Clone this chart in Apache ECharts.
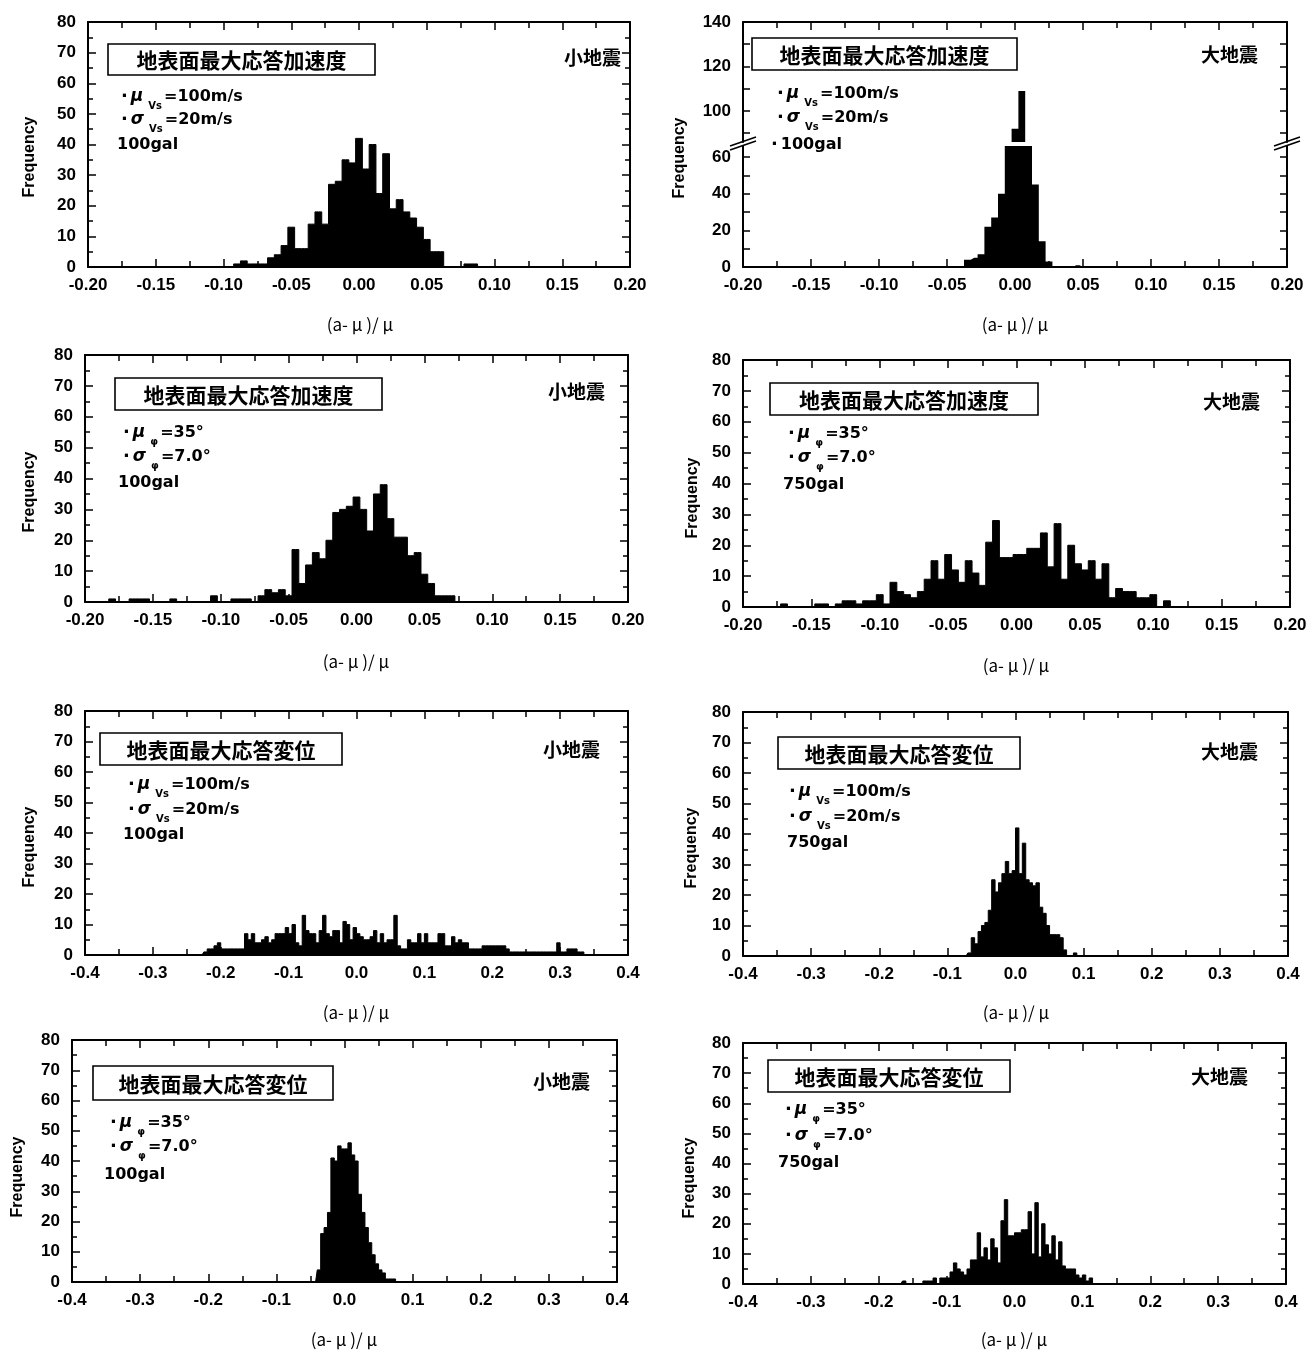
<!DOCTYPE html>
<html><head><meta charset="utf-8">
<script src="https://cdn.jsdelivr.net/npm/echarts@6/dist/echarts.min.js"></script>
<style>html,body{margin:0;padding:0;background:#fff}#c{width:1308px;height:1352px}</style>
</head><body><div id="c"></div>
<script>
// ---------------- DATA (histogram bins: lower edge of first bin + counts per 0.005 bin) ----------------
const binWidth = 0.005;

// Panel 1: 地表面最大応答加速度, 小地震, μVs=100m/s σVs=20m/s, 100gal
const p1Start = -0.0925;
const p1Counts = [1,2,1,1,1,3,4,7,13,6, 6,14,18,14,27,28,35,34,42,32, 40,24,37,19,22,18,16,13,9,5, 5,0,0,0,1,1];

// Panel 2: 地表面最大応答加速度, 大地震, μVs=100m/s σVs=20m/s, 100gal (broken y axis)
const p2Start = -0.0375;
const p2Counts = [4,5,7,22,27,40,70,92,109,68,45,14,3,0,0,0,1];

// Panel 3: 地表面最大応答加速度, 小地震, μφ=35° σφ=7.0°, 100gal
const p3Start = -0.1825;
const p3Counts = [1,0,0,1,1,1,0,0,0,1, 0,0,0,0,0,2,0,0,1,1, 1,0,2,4,3,4,2,17,6,12, 16,14,20,29,30,31,34,30,23,35, 38,27,21,21,15,16,9,6,2,2, 2];

// Panel 4: 地表面最大応答加速度, 大地震, μφ=35° σφ=7.0°, 750gal
const p4Start = -0.1725;
const p4Counts = [1,0,0,0,0,1,1,0,1,2, 2,1,2,2,4,1,8,5,4,3, 5,9,15,9,17,12,8,15,11,7, 21,28,16,16,17,17,19,19,24,13, 27,9,20,14,12,15,9,14,3,6, 5,5,3,3,4,0,2];

// Panel 5: 地表面最大応答変位, 小地震, μVs=100m/s σVs=20m/s, 100gal
const p5Start = -0.225;
const p5Counts = [1,2,2,3,4,2,2,2,2,2, 2,2,7,5,7,4,4,5,6,4, 5,7,7,7,9,7,10,4,3,13, 8,7,7,4,8,13,7,6,8,8, 4,11,10,5,9,7,6,5,5,6, 8,4,7,4,5,5,13,3,2,2, 5,4,4,7,4,7,4,4,4,7, 7,3,3,6,4,5,4,4,2,2, 2,2,3,3,3,3,3,3,3,2, 1,1,1,1,1,1,1,1,1,1, 1,1,1,1,4,1,1,2,2,2, 1,1];

// Panel 6: 地表面最大応答変位, 大地震, μVs=100m/s σVs=20m/s, 750gal
const p6Start = -0.07;
const p6Counts = [1,6,4,8,10,11,15,25,21,24, 27,31,27,28,42,27,37,25,24,23, 24,16,14,10,7,7,7,6,2,0, 0,1];

// Panel 7: 地表面最大応答変位, 小地震, μφ=35° σφ=7.0°, 100gal
const p7Start = -0.04;
const p7Counts = [4,16,18,23,41,40,45,44,44,46, 42,40,29,23,18,13,9,6,4,3, 1,1,1];

// Panel 8: 地表面最大応答変位, 大地震, μφ=35° σφ=7.0°, 750gal
const p8Start = -0.165;
const p8Counts = [1,0,0,0,0,0,1,1,1,2, 0,2,2,2,4,7,5,4,3,5, 8,8,17,9,12,8,15,12,7,21, 28,16,16,17,17,18,18,24,10,27, 9,20,13,10,16,8,14,6,5,5, 5,3,2,3,1,2];

// Text
const titleAcc = '地表面最大応答加速度';
const titleDisp = '地表面最大応答変位';
const smallEq = '小地震';
const largeEq = '大地震';
const yName = 'Frequency';
const xName = '(a- μ )/ μ';

// ---------------- BUILD ----------------
function histPoints(start, counts) {
  const pts = [[start - binWidth / 2, 0]];
  counts.forEach((c, i) => pts.push([start + (i + 0.5) * binWidth, c]));
  pts.push([start + (counts.length + 0.5) * binWidth, 0]);
  return pts;
}

const grids = [], xAxes = [], yAxes = [], series = [], graphics = [];
const BLACK = '#000';
const tickFont = {color: BLACK, fontSize: 17, fontWeight: 'bold', fontFamily: 'Liberation Sans, Arial, sans-serif'};

function addGrid(left, top, width, height) {
  grids.push({left, top, width, height, containLabel: false, outerBoundsMode: 'none'});
  return grids.length - 1;
}
function xAx(g, pos, lim, showLabel) {
  const digits = lim < 0.3 ? 2 : 1;
  xAxes.push({
    type: 'value', gridIndex: g, position: pos, min: -lim, max: lim, interval: lim / 4,
    axisLine: {show: true, onZero: false, lineStyle: {color: BLACK, width: 2}},
    axisTick: {show: true, inside: true, length: 8, lineStyle: {color: BLACK, width: 1.5}},
    minorTick: {show: true, splitNumber: 2, length: 6, lineStyle: {color: BLACK, width: 1.5}},
    splitLine: {show: false}, minorSplitLine: {show: false},
    axisLabel: Object.assign({show: showLabel, margin: 10,
      formatter: v => (Math.abs(v) < 1e-9 ? 0 : v).toFixed(digits)}, tickFont)
  });
  return xAxes.length - 1;
}
function yAx(g, pos, opt, showLabel) {
  const cfg = {
    type: 'value', gridIndex: g, position: pos, min: opt.min, max: opt.max,
    axisLine: {show: true, onZero: false, lineStyle: {color: BLACK, width: 2}},
    axisTick: {show: true, inside: true, length: 8, lineStyle: {color: BLACK, width: 1.5}},
    minorTick: {show: !opt.tickValues, splitNumber: 2, length: 5, lineStyle: {color: BLACK, width: 1.5}},
    splitLine: {show: false}, minorSplitLine: {show: false},
    axisLabel: Object.assign({show: showLabel, margin: 12}, tickFont)
  };
  if (opt.tickValues) {
    cfg.axisTick.customValues = opt.tickValues;
    cfg.axisTick.length = 7;
    cfg.axisLabel.customValues = opt.labelValues;
  } else {
    cfg.interval = opt.interval;
  }
  yAxes.push(cfg);
  return yAxes.length - 1;
}
function hist(xi, yi, start, counts, lineW) {
  series.push({
    type: 'line', xAxisIndex: xi, yAxisIndex: yi, step: 'middle', symbol: 'none',
    data: histPoints(start, counts), clip: true, silent: true,
    lineStyle: {color: BLACK, width: lineW}, areaStyle: {color: BLACK, opacity: 1}
  });
}

const richParam = {
  b: {fontFamily: 'DejaVu Sans', fontWeight: 'bold', fontSize: 18, padding: [0, 3, 0, 0]},
  g: {fontFamily: 'DejaVu Sans', fontWeight: 'bold', fontStyle: 'italic', fontSize: 17, padding: [0, 5, 0, 0]},
  s: {fontFamily: 'DejaVu Sans', fontWeight: 'bold', fontSize: 10, padding: [18, 2, 0, 0]},
  t: {fontFamily: 'DejaVu Sans', fontWeight: 'bold', fontSize: 16}
};
function txt(x, y, text, extra) {
  graphics.push({type: 'text', x, y, silent: true, style: Object.assign({text, fill: BLACK, align: 'left', verticalAlign: 'middle'}, extra || {})});
}
function annotate(L) {
  // title box
  graphics.push({type: 'rect', silent: true, shape: {x: L.box[0], y: L.box[1], width: L.box[2], height: L.box[3]},
    style: {fill: '#fff', stroke: BLACK, lineWidth: 1.6}});
  txt(L.box[0] + L.box[2] / 2, L.box[1] + L.box[3] / 2 + 1, L.title,
    {align: 'center', fontFamily: 'Noto Sans CJK JP', fontWeight: 'bold', fontSize: 21});
  txt(L.eqPos[0], L.eqPos[1], L.eq, {align: 'right', fontFamily: 'Noto Sans CJK JP', fontWeight: 'bold', fontSize: 19});
  const sub = L.kind === 'vs' ? 'Vs' : 'φ';
  const v1 = L.kind === 'vs' ? '=100m/s' : '=35°';
  const v2 = L.kind === 'vs' ? '=20m/s' : '=7.0°';
  txt(L.lines[0][0], L.lines[0][1], `{b|·}{g|μ}{s|${sub}}{t|${v1}}`, {rich: richParam});
  txt(L.lines[1][0], L.lines[1][1], `{b|·}{g|σ}{s|${sub}}{t|${v2}}`, {rich: richParam});
  txt(L.galPos[0], L.galPos[1], L.galBullet ? `{b|·}{t|${L.gal}}` : `{t|${L.gal}}`, {rich: richParam});
  txt(L.freq[0], L.freq[1], yName, {align: 'center', fontFamily: 'Liberation Sans', fontWeight: 'bold', fontSize: 16});
  graphics[graphics.length - 1].rotation = Math.PI / 2;
  txt(L.xname[0], L.xname[1], xName, {align: 'center', fontFamily: 'Noto Sans CJK JP', fontSize: 17});
}

// standard panels
function stdPanel(L, start, counts) {
  const g = addGrid(L.grid[0], L.grid[1], L.grid[2], L.grid[3]);
  const xb = xAx(g, 'bottom', L.lim, true);
  xAx(g, 'top', L.lim, false);
  const yl = yAx(g, 'left', {min: 0, max: 80, interval: 10}, true);
  yAx(g, 'right', {min: 0, max: 80, interval: 10}, false);
  hist(xb, yl, start, counts, 1);
  annotate(L);
}

stdPanel({grid: [88, 22, 542, 245], lim: 0.2, title: titleAcc, box: [108, 44, 267, 31], eq: smallEq, eqPos: [621, 58],
  kind: 'vs', lines: [[121, 97], [121, 120]], gal: '100gal', galPos: [117, 145], galBullet: false,
  freq: [30, 157], xname: [360, 325]}, p1Start, p1Counts);

// Panel 2 with broken axis: two stacked grids
(function () {
  const L = {lim: 0.2, title: titleAcc, box: [752, 38, 265, 32], eq: largeEq, eqPos: [1258, 55],
    kind: 'vs', lines: [[777, 94], [777, 118]], gal: '100gal', galPos: [771, 145], galBullet: true,
    freq: [680, 158], xname: [1015, 325]};
  const gL = addGrid(743, 146, 544, 121);
  const gU = addGrid(743, 22, 544, 120);
  const xb = xAx(gL, 'bottom', 0.2, true);
  const xt = xAx(gU, 'top', 0.2, false);
  const yLo = yAx(gL, 'left', {min: 0, max: 66, labelValues: [0, 20, 40, 60], tickValues: [10, 20, 30, 40, 50, 60]}, true);
  yAx(gL, 'right', {min: 0, max: 66, labelValues: [], tickValues: [10, 20, 30, 40, 50, 60]}, false);
  const yUp = yAx(gU, 'left', {min: 86, max: 140, labelValues: [100, 120, 140], tickValues: [90, 100, 110, 120, 130]}, true);
  yAx(gU, 'right', {min: 86, max: 140, labelValues: [], tickValues: [90, 100, 110, 120, 130]}, false);
  hist(xb, yLo, p2Start, p2Counts, 0);
  hist(xt, yUp, p2Start, p2Counts, 0);
  annotate(L);
  // axis break marks
  [743, 1287].forEach(ax => {
    graphics.push({type: 'polygon', silent: true, shape: {points: [[ax - 13, 146], [ax + 13, 137], [ax + 13, 141], [ax - 13, 150]]},
      style: {fill: '#fff'}});
    graphics.push({type: 'line', silent: true, shape: {x1: ax - 13, y1: 146, x2: ax + 13, y2: 137}, style: {stroke: BLACK, lineWidth: 1.6}});
    graphics.push({type: 'line', silent: true, shape: {x1: ax - 13, y1: 150, x2: ax + 13, y2: 141}, style: {stroke: BLACK, lineWidth: 1.6}});
  });
})();

stdPanel({grid: [85, 355, 543, 247], lim: 0.2, title: titleAcc, box: [115, 378, 267, 32], eq: smallEq, eqPos: [605, 392],
  kind: 'phi', lines: [[123, 433], [123, 457]], gal: '100gal', galPos: [118, 483], galBullet: false,
  freq: [30, 492], xname: [356, 662]}, p3Start, p3Counts);

stdPanel({grid: [743, 360, 547, 247], lim: 0.2, title: titleAcc, box: [770, 383, 268, 32], eq: largeEq, eqPos: [1260, 402],
  kind: 'phi', lines: [[788, 434], [788, 458]], gal: '750gal', galPos: [783, 485], galBullet: false,
  freq: [693, 498], xname: [1016, 666]}, p4Start, p4Counts);

stdPanel({grid: [85, 711, 543, 244], lim: 0.4, title: titleDisp, box: [100, 733, 242, 32], eq: smallEq, eqPos: [600, 750],
  kind: 'vs', lines: [[128, 785], [128, 810]], gal: '100gal', galPos: [123, 835], galBullet: false,
  freq: [30, 847], xname: [356, 1013]}, p5Start, p5Counts);

stdPanel({grid: [743, 712, 545, 244], lim: 0.4, title: titleDisp, box: [778, 737, 242, 32], eq: largeEq, eqPos: [1258, 752],
  kind: 'vs', lines: [[789, 792], [789, 817]], gal: '750gal', galPos: [787, 843], galBullet: false,
  freq: [692, 848], xname: [1016, 1013]}, p6Start, p6Counts);

stdPanel({grid: [72, 1040, 545, 242], lim: 0.4, title: titleDisp, box: [93, 1066, 240, 34], eq: smallEq, eqPos: [590, 1082],
  kind: 'phi', lines: [[110, 1123], [110, 1147]], gal: '100gal', galPos: [104, 1175], galBullet: false,
  freq: [18, 1177], xname: [344, 1340]}, p7Start, p7Counts);

stdPanel({grid: [743, 1043, 543, 241], lim: 0.4, title: titleDisp, box: [768, 1060, 242, 32], eq: largeEq, eqPos: [1248, 1077],
  kind: 'phi', lines: [[785, 1110], [785, 1136]], gal: '750gal', galPos: [778, 1163], galBullet: false,
  freq: [690, 1178], xname: [1014, 1340]}, p8Start, p8Counts);

const chart = echarts.init(document.getElementById('c'), null, {renderer: 'canvas'});
chart.setOption({
  animation: false,
  backgroundColor: '#fff',
  grid: grids, xAxis: xAxes, yAxis: yAxes, series: series,
  graphic: graphics
});
</script>
</body></html>
